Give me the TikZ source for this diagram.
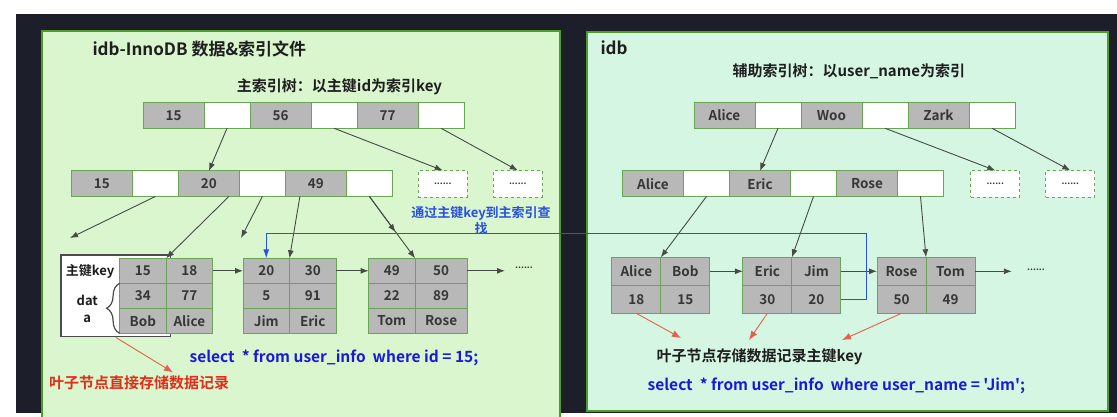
\documentclass[tikz,border=0pt]{standalone}
\usepackage{fontspec}
\setmainfont{Noto Sans CJK SC}[BoldFont={Noto Sans CJK SC Bold}]
\newfontfamily\plainquote{Noto Sans CJK SC}[BoldFont={Noto Sans CJK SC Bold}]
\usepackage{xcolor}
\usetikzlibrary{arrows.meta, positioning, decorations.pathreplacing}

\definecolor{darkbg}{RGB}{28,31,42}
\definecolor{leftpanel}{RGB}{218,246,207}
\definecolor{rightpanel}{RGB}{214,246,228}
\definecolor{panelline}{RGB}{78,155,42}
\definecolor{cellline}{RGB}{105,165,85}
\definecolor{cellgray}{RGB}{184,184,184}
\definecolor{celltext}{RGB}{55,55,55}
\definecolor{arrowgray}{RGB}{70,75,70}
\definecolor{notered}{RGB}{225,45,25}
\definecolor{redline}{RGB}{230,95,75}
\definecolor{lookupblue}{RGB}{40,80,225}
\definecolor{sqlblue}{RGB}{25,25,215}
\definecolor{headtext}{RGB}{30,30,30}

\begin{document}
\begin{tikzpicture}[
  x=1pt, y=-1pt,
  font=\bfseries,
  keycell/.style={
    draw=cellline,
    fill=cellgray,
    line width=1pt,
    text=celltext,
    minimum width=61pt,
    minimum height=25.5pt,
    inner sep=0pt,
    outer sep=0pt,
    font=\fontsize{13.5}{15}\selectfont\bfseries
  },
  blankcell/.style={
    keycell,
    fill=white,
    minimum width=46pt
  },
  dotbox/.style={
    draw=cellline,
    dashed,
    fill=white,
    line width=1pt,
    minimum width=49pt,
    minimum height=26.5pt,
    inner sep=0pt,
    text=celltext,
    font=\fontsize{9}{10}\selectfont\bfseries
  },
  leafcell/.style={
    keycell,
    minimum width=46.5pt,
    minimum height=25pt
  },
  rleafcell/.style={
    keycell,
    minimum width=49pt,
    minimum height=28pt
  },
  keybox/.style={
    draw=headtext!80,
    fill=white,
    line width=1.5pt,
    inner sep=0pt
  },
  smalllabel/.style={
    text=headtext,
    font=\fontsize{13}{17.5}\selectfont\bfseries
  },
  dots/.style={
    text=celltext,
    font=\fontsize{9}{10}\selectfont\bfseries
  },
  arrow/.style={
    draw=arrowgray,
    line width=0.9pt,
    -{Latex[length=8pt,width=6pt]}
  },
  redarrow/.style={
    draw=redline,
    line width=0.9pt,
    -{Latex[length=9pt,width=7pt]}
  },
  bluearrow/.style={
    draw=lookupblue,
    line width=1pt,
    -{Latex[length=9pt,width=6pt]}
  },
  headline/.style={
    text=headtext,
    font=\fontsize{17}{19}\selectfont\bfseries
  },
  subhead/.style={
    text=headtext,
    font=\fontsize{15}{17}\selectfont\bfseries
  },
  sqltext/.style={
    text=sqlblue,
    font=\fontsize{15.5}{18}\selectfont\bfseries
  }
]
\useasboundingbox (0,0) rectangle (1117,417);

% Background and the two panels
\fill[white] (0,0) rectangle (1117,417);
\fill[darkbg] (16,14) rectangle (1117,413);
\draw[panelline, fill=leftpanel, line width=2pt] (41.7,31) rectangle (560,419);
\draw[panelline, fill=rightpanel, line width=2pt] (587,31.7) rectangle (1108,410.7);

% Left panel titles
\node[headline, anchor=west] (ltitle) at (89,49) {idb-InnoDB 数据\&索引文件};
\node[subhead] (lsub) at (339.5,87) {主索引树：以主键id为索引key};

% Primary index: root row
\node[keycell] (lt1) at (173.5,115.5) {15};
\node[blankcell, right=0pt of lt1] (lt2) {};
\node[keycell, right=0pt of lt2] (lt3) {56};
\node[blankcell, right=0pt of lt3] (lt4) {};
\node[keycell, right=0pt of lt4] (lt5) {77};
\node[blankcell, right=0pt of lt5] (lt6) {};

% Primary index: middle row
\node[keycell] (lm1) at (101.9,183.7) {15};
\node[blankcell, right=0pt of lm1] (lm2) {};
\node[keycell, right=0pt of lm2] (lm3) {20};
\node[blankcell, right=0pt of lm3] (lm4) {};
\node[keycell, right=0pt of lm4] (lm5) {49};
\node[blankcell, right=0pt of lm5] (lm6) {};

\node[dotbox] (ld1) at (442.8,184.2) {......};
\node[dotbox] (ld2) at (517.8,184.2) {......};

% Leaf 1 with key/data labels
\node[keybox, minimum width=109.7pt, minimum height=81.7pt] (lkey) at (115.85,295.85) {};
\node[smalllabel] (lkeylabel) at (90,271) {主键key};
\node[smalllabel, align=center] (ldatalabel) at (87.3,309) {dat\\a};

\node[leafcell] (la11) at (142.85,270.8) {15};
\node[leafcell, right=0pt of la11] (la12) {18};
\node[leafcell, below=0pt of la11] (la21) {34};
\node[leafcell, right=0pt of la21] (la22) {77};
\node[leafcell, below=0pt of la21] (la31) {Bob};
\node[leafcell, right=0pt of la31] (la32) {Alice};

\draw[headtext!80, line width=1.2pt, decorate, decoration={brace, amplitude=13pt}]
  (la31.south west) -- (la21.north west);

% Leaf 2
\node[leafcell] (lb11) at (266.25,270.8) {20};
\node[leafcell, right=0pt of lb11] (lb12) {30};
\node[leafcell, below=0pt of lb11] (lb21) {5};
\node[leafcell, right=0pt of lb21] (lb22) {91};
\node[leafcell, below=0pt of lb21] (lb31) {Jim};
\node[leafcell, right=0pt of lb31] (lb32) {Eric};

% Leaf 3
\node[leafcell] (lc11) at (391.85,270.8) {49};
\node[leafcell, minimum width=52pt, right=0pt of lc11] (lc12) {50};
\node[leafcell, below=0pt of lc11] (lc21) {22};
\node[leafcell, minimum width=52pt, right=0pt of lc21] (lc22) {89};
\node[leafcell, below=0pt of lc21] (lc31) {Tom};
\node[leafcell, minimum width=52pt, right=0pt of lc31] (lc32) {Rose};

\coordinate (lend) at (505,270.8);
\node[dots] (ldots) at (524,268) {......};

% Tree arrows (left)
\coordinate (lp1) at (70,238);
\coordinate (lp2) at (241,238);
\coordinate (lp3) at (395.5,232);
\draw[arrow] (lt2.south) -- (lm3.north);
\draw[arrow] (lt4.south) -- (ld1.north);
\draw[arrow] (lt6.south) -- (ld2.north);
\draw[arrow] (lm2.south) -- (lp1);
\draw[arrow] ([xshift=20pt]lm3.south) -- (la11.north east);
\draw[arrow] (lm4.south) -- (lp2);
\draw[arrow] ([xshift=-16pt]lm5.south) -- (lb11.north east);
\draw[arrow] (lm6.south) -- (lp3);
\draw[arrow] (lm6.south) -- (lc11.north east);

% Leaf links (left)
\draw[arrow] (la12.east) -- (lb11.west);
\draw[arrow] (lb12.east) -- (lc11.west);
\draw[arrow] (lc12.east) -- (lend);

% Left notes
\node[sqltext] (lsql) at (334,358) {select\ \ * from user\_info\ \ where id = 15;};
\node[text=notered, font=\fontsize{15}{17}\selectfont\bfseries] (lnote) at (139,383) {叶子节点直接存储数据记录};
\draw[redarrow] (lkey.south) -- ([xshift=34pt]lnote.north);

% Right panel titles
\node[headline, anchor=west] (rtitle) at (597,48) {idb};
\node[subhead] (rsub) at (848.8,71) {辅助索引树：以user\_name为索引};

% Secondary index: root row
\node[keycell] (rt1) at (724.5,115.5) {Alice};
\node[blankcell, right=0pt of rt1] (rt2) {};
\node[keycell, right=0pt of rt2] (rt3) {Woo};
\node[blankcell, right=0pt of rt3] (rt4) {};
\node[keycell, right=0pt of rt4] (rt5) {Zark};
\node[blankcell, right=0pt of rt5] (rt6) {};

% Secondary index: middle row
\node[keycell] (rm1) at (653,183.7) {Alice};
\node[blankcell, right=0pt of rm1] (rm2) {};
\node[keycell, right=0pt of rm2] (rm3) {Eric};
\node[blankcell, right=0pt of rm3] (rm4) {};
\node[keycell, right=0pt of rm4] (rm5) {Rose};
\node[blankcell, right=0pt of rm5] (rm6) {};

\node[dotbox] (rd1) at (995.3,184.2) {......};
\node[dotbox] (rd2) at (1070.3,184.2) {......};

% Secondary leaves
\node[rleafcell] (ra11) at (636.3,271.3) {Alice};
\node[rleafcell, right=0pt of ra11] (ra12) {Bob};
\node[rleafcell, below=0pt of ra11] (ra21) {18};
\node[rleafcell, right=0pt of ra21] (ra22) {15};

\node[rleafcell] (rb11) at (767.4,271.3) {Eric};
\node[rleafcell, right=0pt of rb11] (rb12) {Jim};
\node[rleafcell, below=0pt of rb11] (rb21) {30};
\node[rleafcell, right=0pt of rb21] (rb22) {20};

\node[rleafcell] (rc11) at (901.5,271.3) {Rose};
\node[rleafcell, right=0pt of rc11] (rc12) {Tom};
\node[rleafcell, below=0pt of rc11] (rc21) {50};
\node[rleafcell, right=0pt of rc21] (rc22) {49};

\coordinate (rend) at (1011.8,271.3);
\node[dots] (rdots) at (1036,270) {......};

% Tree arrows (right)
\draw[arrow] (rt2.south) -- (rm3.north);
\draw[arrow] (rt4.south) -- (rd1.north);
\draw[arrow] (rt6.south) -- (rd2.north);
\draw[arrow] (rm2.south) -- (ra11.north east);
\draw[arrow] (rm4.south) -- (rb11.north east);
\draw[arrow] (rm6.south) -- (rc11.north east);

% Leaf links (right)
\draw[arrow] (ra12.east) -- (rb11.west);
\draw[arrow] (rb12.east) -- (rc11.west);
\draw[arrow] (rc12.east) -- (rend);

% Lookup back to primary index
\coordinate (bturn) at (866.4,233.3);
\draw[bluearrow] (rb22.east) -| (bturn) -| (lb11.north);
\node[text=lookupblue, align=center, font=\fontsize{13}{16}\selectfont\bfseries] (lookup) at (481,221)
  {通过主键key到主索引查\\找};

% Right notes
\node[subhead] (rnote) at (759.6,356.7) {叶子节点存储数据记录主键key};
\coordinate (rq1) at (681,338);
\coordinate (rq2) at (749,340);
\coordinate (rq3) at (842,340);
\draw[redarrow] (ra21.south) -- (rq1);
\draw[redarrow] (rb21.south) -- (rq2);
\draw[redarrow] (rc21.south) -- (rq3);
\node[sqltext] (rsql) at (836.4,386) {select\ \ * from user\_info\ \ where user\_name = {\plainquote 'Jim'};};

\end{tikzpicture}
\end{document}
